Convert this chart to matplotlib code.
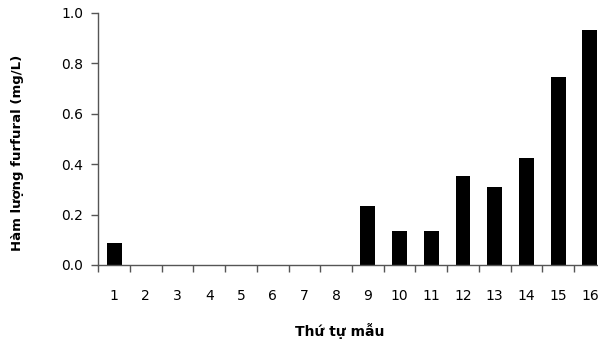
import matplotlib
matplotlib.use("Agg")
import matplotlib.pyplot as plt
import numpy as np

samples = [str(i) for i in range(1, 17)]
furfural = [0.086, 0, 0, 0, 0, 0, 0, 0, 0.234, 0.135, 0.135, 0.353, 0.309, 0.424, 0.745, 0.931]
yticks = [0.0, 0.2, 0.4, 0.6, 0.8, 1.0]

plt.rcParams['font.family'] = ['DejaVu Sans']

fig = plt.figure(figsize=(5.98, 3.43), dpi=100)
W, H = 598, 343
ax = fig.add_axes([98.3 / W, (H - 265) / H, (605.7 - 98.3) / W, 252.3 / H])

x = np.arange(1, len(samples) + 1)
ax.bar(x, furfural, width=0.47, color='black')

ax.set_xlim(0.5, len(samples) + 0.5)
ax.set_ylim(0, 1.0)
ax.set_yticks(yticks)
ax.set_yticklabels([f"{v:.1f}" for v in yticks], fontsize=10)

# major ticks at category boundaries, labels at centers
ax.set_xticks(np.arange(0.5, len(samples) + 1, 1.0))
ax.set_xticklabels([])
ax.set_xticks(x, minor=True)
ax.set_xticklabels(samples, minor=True, fontsize=10)
ax.tick_params(axis='x', which='major', direction='out', length=5, width=1, color='#555555')
ax.tick_params(axis='x', which='minor', length=0, pad=17)
ax.tick_params(axis='y', direction='out', length=5, width=1, color='#555555', pad=6)

for s in ['top', 'right']:
    ax.spines[s].set_visible(False)
for s in ['left', 'bottom']:
    ax.spines[s].set_color('#555555')
    ax.spines[s].set_linewidth(1)

fig.text(340 / W, 1 - 331 / H, "Thứ tự mẫu", ha='center', va='center', fontsize=10, fontweight='bold')
fig.text(18 / W, 1 - 153 / H, "Hàm lượng furfural (mg/L)", ha='center', va='center', rotation=90, fontsize=9.5, fontweight='bold')

fig.savefig("out.png", dpi=100)
